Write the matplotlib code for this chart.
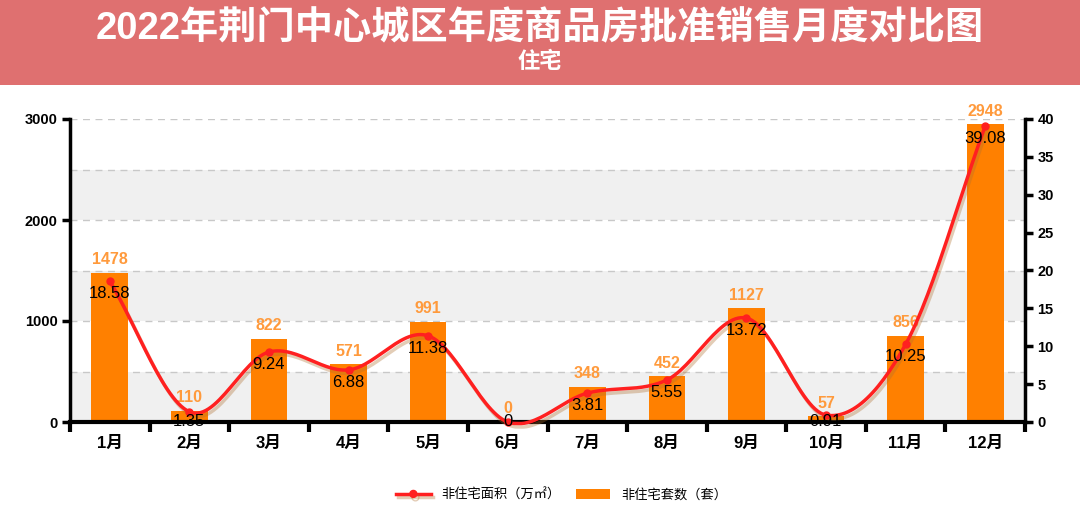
import numpy as np
import matplotlib.pyplot as plt
import matplotlib.patheffects as pe
from matplotlib.patches import Rectangle
from matplotlib.lines import Line2D

plt.rcParams['font.family'] = ['Liberation Sans', 'Noto Sans CJK SC', 'DejaVu Sans']

months = ['1月', '2月', '3月', '4月', '5月', '6月', '7月', '8月', '9月', '10月', '11月', '12月']
units = [1478, 110, 822, 571, 991, 0, 348, 452, 1127, 57, 856, 2948]       # 套数
area = [18.58, 1.35, 9.24, 6.88, 11.38, 0, 3.81, 5.55, 13.72, 0.91, 10.25, 39.08]  # 面积
area_labels = ['18.58', '1.35', '9.24', '6.88', '11.38', '0', '3.81', '5.55', '13.72', '0.91', '10.25', '39.08']

title = '2022年荆门中心城区年度商品房批准销售月度对比图'
subtitle = '住宅'
line_name = '非住宅面积（万㎡）'
bar_name = '非住宅套数（套）'

bar_color = '#ff8000'
line_color = '#ff2020'


def catmull_rom(xs, ys, n=30):
    # smooth curve through the points, for drawing only
    xs = np.asarray(xs, float)
    ys = np.asarray(ys, float)
    px = np.concatenate([[2 * xs[0] - xs[1]], xs, [2 * xs[-1] - xs[-2]]])
    py = np.concatenate([[2 * ys[0] - ys[1]], ys, [2 * ys[-1] - ys[-2]]])
    ox, oy = [], []
    t = np.linspace(0, 1, n)
    for i in range(1, len(px) - 2):
        for p, out in ((px, ox), (py, oy)):
            p0, p1, p2, p3 = p[i - 1], p[i], p[i + 1], p[i + 2]
            out.extend(0.5 * (2 * p1 + (-p0 + p2) * t + (2 * p0 - 5 * p1 + 4 * p2 - p3) * t ** 2
                              + (-p0 + 3 * p1 - 3 * p2 + p3) * t ** 3))
    return np.array(ox), np.array(oy)


fig = plt.figure(figsize=(10.8, 5.28), dpi=100)
fig.patch.set_facecolor('white')

# title banner
fig.patches.append(Rectangle((0, 1 - 85 / 528), 1, 85 / 528, transform=fig.transFigure,
                             facecolor='#df7070', edgecolor='none', zorder=0))
fig.text(0.5, 1 - 29 / 528, title, ha='center', va='center', color='white',
         fontsize=27.5, fontweight='bold')
fig.text(0.5, 1 - 62 / 528, subtitle, ha='center', va='center', color='white',
         fontsize=16, fontweight='bold')

ax = fig.add_axes([70 / 1080, 1 - 422 / 528, (1025 - 70) / 1080, (422 - 119) / 528])
x = np.arange(len(months))

# alternating bands and dashed grid
for lo in (0, 1000, 2000):
    ax.axhspan(lo, lo + 500, facecolor='#f0f0f0', edgecolor='none', zorder=0)
for v in range(500, 3001, 500):
    ax.axhline(v, color='#c8c8c8', lw=1, ls=(0, (5, 4)), zorder=0.5)

ax.bar(x, units, width=0.46, color=bar_color, zorder=2)
for xi, u in zip(x, units):
    ax.annotate(str(u), (xi, u), xytext=(0, 4), textcoords='offset points', ha='center',
                va='bottom', color='#ff9a3c', fontsize=11.5, fontweight='bold', zorder=5)

ax.set_xlim(-0.5, len(months) - 0.5)
ax.set_ylim(0, 3000)
ax.set_yticks([0, 1000, 2000, 3000])
ax.set_xticks(x)
ax.set_xticklabels(months, fontsize=12, fontweight='bold')
ax.set_xticks(np.arange(-0.5, len(months)), minor=True)
ax.tick_params(axis='x', which='major', length=0, pad=10)
ax.tick_params(axis='x', which='minor', length=7, width=3, direction='out')
ax.tick_params(axis='y', length=6, width=2.5, labelsize=10.5, pad=3)
for lab in ax.get_yticklabels():
    lab.set_fontweight('bold')
for s in ('top', 'right'):
    ax.spines[s].set_visible(False)
ax.spines['left'].set_linewidth(2.5)
ax.spines['bottom'].set_linewidth(3)

ax2 = ax.twinx()
ax2.set_ylim(0, 40)
ax2.set_yticks(range(0, 41, 5))
ax2.tick_params(axis='y', length=6, width=2.5, labelsize=10.5, pad=3)
for lab in ax2.get_yticklabels():
    lab.set_fontweight('bold')
for s in ('top', 'left', 'bottom'):
    ax2.spines[s].set_visible(False)
ax2.spines['right'].set_linewidth(2.5)
ax2.patch.set_visible(False)

sx, sy = catmull_rom(x, area)
sy = np.maximum(sy, -0.2)
ax2.plot(sx, sy, color=line_color, lw=2.5, clip_on=False, zorder=3,
         path_effects=[pe.SimpleLineShadow(offset=(1.5, -2.5), shadow_color='#b07030', alpha=0.35),
                       pe.Normal()])
ax2.plot(x, area, 'o', color=line_color, ms=5, zorder=4, clip_on=False)
# points per data unit on the right axis (303 px for 40 units)
pt_per_unit = 303 / 40 * 0.72
for xi, a, lab in zip(x, area, area_labels):
    off = -min(9, a * pt_per_unit)
    ax2.annotate(lab, (xi, a), xytext=(0, off), textcoords='offset points', ha='center',
                 va='center', color='black', fontsize=12, zorder=6)

handles = [
    Line2D([0], [0], color=line_color, lw=2.5, marker='o', ms=5,
           path_effects=[pe.SimpleLineShadow(offset=(1.5, -2.5), shadow_color='#b07030', alpha=0.35),
                         pe.Normal()]),
    Rectangle((0, 0), 1, 1, facecolor=bar_color, edgecolor='none'),
]
fig.legend(handles, [line_name, bar_name], loc='center', bbox_to_anchor=(0.52, 1 - 495 / 528),
           ncol=2, frameon=False, handlelength=2.6, columnspacing=1.2,
           prop={'family': ['Noto Sans CJK SC', 'DejaVu Sans'], 'size': 9.5})

fig.savefig('out.png', dpi=100)
